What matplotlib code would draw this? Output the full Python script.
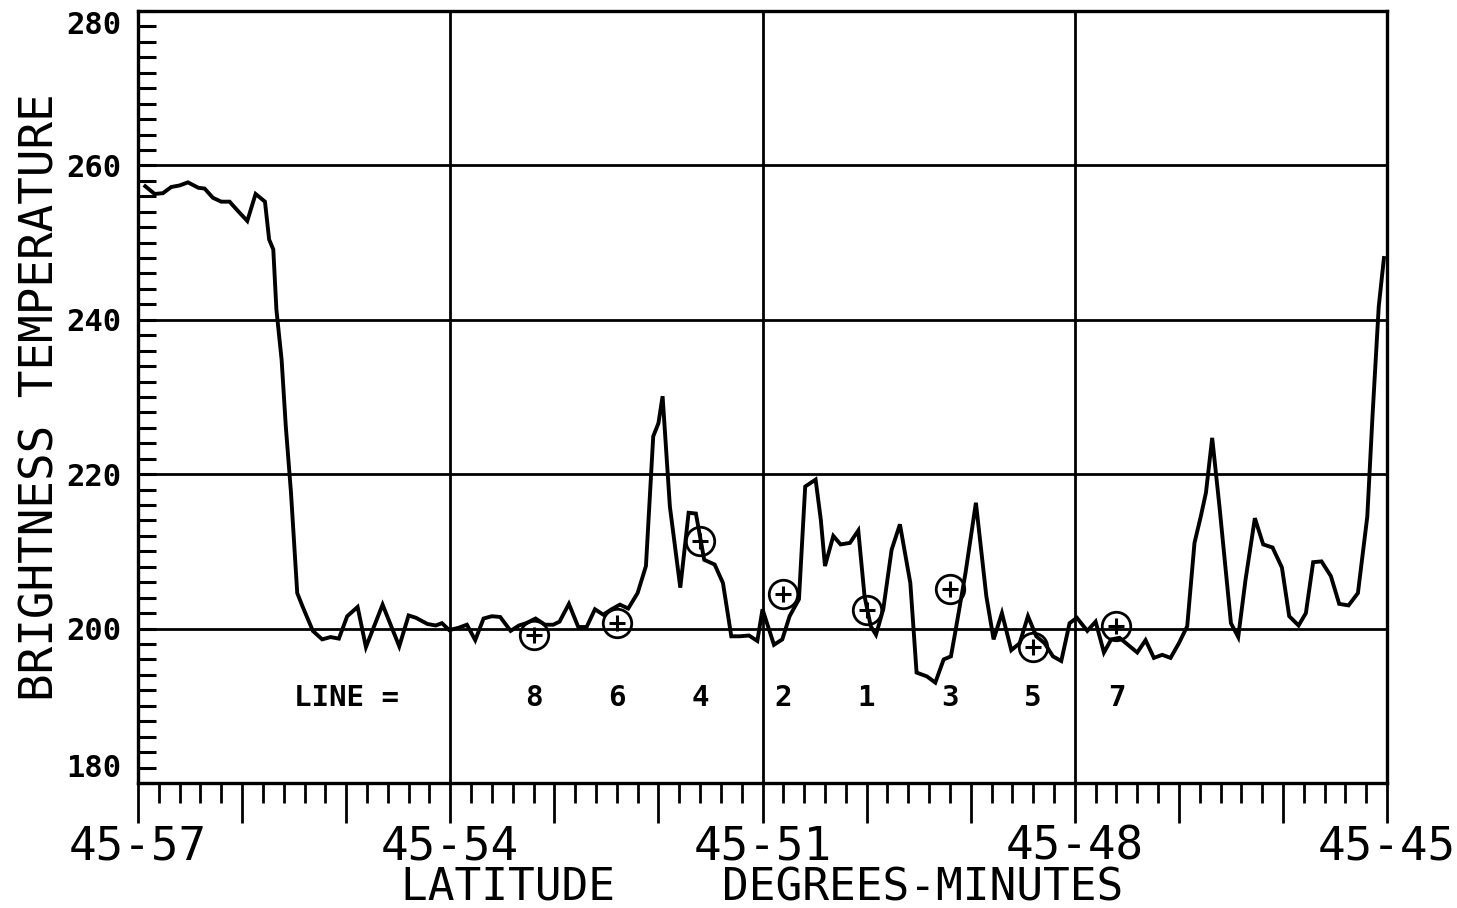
import matplotlib
matplotlib.use("Agg")
import matplotlib.pyplot as plt
import numpy as np

# ---- data ----
# x: minutes of latitude south of 45-57 (0 = 45-57, 12 = 45-45)
scan_x = [0.07, 0.16, 0.24, 0.32, 0.40, 0.48, 0.58, 0.64, 0.72, 0.80, 0.88, 0.96,
          1.05, 1.13, 1.22, 1.26, 1.30, 1.33, 1.38, 1.42, 1.47, 1.50, 1.53, 1.58,
          1.68, 1.77, 1.85, 1.93, 2.01, 2.11, 2.19, 2.35, 2.51, 2.60, 2.67, 2.78,
          2.86, 2.92, 2.99, 3.08, 3.16, 3.24, 3.32, 3.40, 3.48, 3.58, 3.66, 3.73,
          3.82, 3.91, 3.99, 4.05, 4.14, 4.23, 4.31, 4.39, 4.47, 4.55, 4.63, 4.71,
          4.80, 4.88, 4.95, 5.00, 5.04, 5.11, 5.21, 5.29, 5.36, 5.44, 5.54, 5.62,
          5.70, 5.78, 5.87, 5.95, 6.00, 6.11, 6.19, 6.26, 6.35, 6.41, 6.51, 6.56,
          6.60, 6.68, 6.75, 6.84, 6.92, 6.98, 7.04, 7.09, 7.16, 7.24, 7.32, 7.42,
          7.48, 7.58, 7.66, 7.74, 7.81, 7.85, 7.95, 8.05, 8.15, 8.22, 8.30, 8.39,
          8.47, 8.55, 8.63, 8.71, 8.79, 8.87, 8.95, 9.02, 9.12, 9.20, 9.28, 9.35,
          9.43, 9.51, 9.60, 9.68, 9.76, 9.84, 9.92, 10.00, 10.08, 10.15, 10.21,
          10.26, 10.32, 10.39, 10.50, 10.57, 10.64, 10.73, 10.81, 10.90, 10.99,
          11.06, 11.15, 11.22, 11.29, 11.37, 11.46, 11.54, 11.63, 11.72, 11.81,
          11.86, 11.92, 11.97]
brightness_temp = [257.3, 256.3, 256.4, 257.2, 257.4, 257.8, 257.1, 257.0, 255.8,
                   255.3, 255.3, 254.1, 252.8, 256.3, 255.3, 250.4, 249.1, 241.3,
                   234.8, 226.2, 217.6, 211.1, 204.6, 202.9, 199.7, 198.6, 198.9,
                   198.7, 201.6, 202.8, 197.6, 203.1, 197.7, 201.7, 201.4, 200.6,
                   200.4, 200.7, 199.8, 200.1, 200.5, 198.5, 201.3, 201.6, 201.5,
                   199.7, 200.4, 200.7, 201.3, 200.5, 200.5, 200.9, 203.2, 200.2,
                   200.2, 202.5, 201.8, 202.5, 203.1, 202.6, 204.6, 208.1, 224.9,
                   226.6, 230.1, 215.8, 205.3, 215.0, 214.9, 208.9, 208.3, 205.9,
                   199.0, 199.0, 199.1, 198.4, 202.5, 197.9, 198.6, 201.6, 203.8,
                   218.4, 219.3, 214.1, 208.1, 212.0, 210.9, 211.1, 212.7, 204.2,
                   200.3, 199.2, 202.5, 210.2, 213.5, 205.9, 194.3, 193.8, 193.0,
                   196.0, 196.4, 199.4, 207.2, 216.3, 204.2, 198.6, 202.0, 197.2,
                   198.1, 201.6, 199.0, 198.1, 196.4, 195.8, 200.7, 201.4, 199.7,
                   200.9, 196.9, 198.6, 198.8, 197.9, 196.9, 198.5, 196.2, 196.6,
                   196.2, 198.1, 200.3, 211.1, 214.5, 217.6, 224.7, 215.8, 200.7,
                   198.9, 206.3, 214.3, 210.9, 210.5, 207.9, 201.6, 200.4, 202.0,
                   208.6, 208.7, 206.8, 203.2, 203.0, 204.6, 214.5, 227.5, 241.7,
                   248.0]

line_ids = ["8", "6", "4", "2", "1", "3", "5", "7"]
line_x = [3.8, 4.6, 5.4, 6.2, 7.0, 7.8, 8.6, 9.4]
line_marker_temp = [199.2, 200.7, 211.4, 204.5, 202.4, 205.1, 197.6, 200.3]

x_tick_pos = [0, 3, 6, 9, 12]
x_tick_labels = ["45-57", "45-54", "45-51", "45-48", "45-45"]
y_tick_pos = [180, 200, 220, 240, 260, 280]
y_tick_labels = ["180", "200", "220", "240", "260", "280"]

FONT = "DejaVu Sans Mono"
plt.rcParams["font.family"] = FONT

fig = plt.figure(figsize=(14.57, 9.08), dpi=100)
ax = fig.add_axes([0.0947, 0.1377, 0.8573, 0.8502])

# grid lines
for gx in x_tick_pos[1:-1]:
    ax.axvline(gx, color="black", lw=2.0, zorder=1)
for gy in y_tick_pos[1:-1]:
    ax.axhline(gy, color="black", lw=2.0, zorder=1)

ax.plot(scan_x, brightness_temp, color="black", lw=2.8, zorder=3,
        solid_joinstyle="miter")

# scan-line markers (circle with plus)
ax.plot(line_x, line_marker_temp, linestyle="none", marker="o", markersize=20.5,
        markerfacecolor="none", markeredgecolor="black", markeredgewidth=2.0, zorder=4)
ax.plot(line_x, line_marker_temp, linestyle="none", marker="+", markersize=12,
        markeredgecolor="black", markeredgewidth=2.2, zorder=4)

ax.text(2.0, 191.0, "LINE =", fontsize=21, fontweight="bold", ha="center", va="center")
for lx, lid in zip(line_x, line_ids):
    ax.text(lx, 191.0, lid, fontsize=21, fontweight="bold", ha="center", va="center")

ax.set_xlim(0, 12)
ax.set_ylim(180, 280)

# x ticks
ax.set_xticks(np.arange(0, 13, 1))
ax.set_xticklabels([x_tick_labels[x_tick_pos.index(v)] if v in x_tick_pos else ""
                    for v in range(13)])
ax.set_xticks([v for v in np.round(np.arange(0, 12.01, 0.2), 2)
               if abs(v - round(v)) > 1e-6], minor=True)
ax.tick_params(axis="x", which="major", direction="out", length=29, width=2.0,
               pad=1, labelsize=33)
ax.tick_params(axis="x", which="minor", direction="out", length=14.5, width=2.0)

# y ticks
ax.set_yticks(y_tick_pos)
ax.set_yticklabels(y_tick_labels, fontweight="bold")
ax.set_yticks([v for v in range(180, 281, 2) if v % 20 != 0], minor=True)
ax.tick_params(axis="y", which="both", direction="in", length=13, width=2.2,
               pad=12, labelsize=22)
ylabs = ax.get_yticklabels()
ylabs[0].set_va("bottom")
ylabs[-1].set_va("top")

for s in ax.spines.values():
    s.set_linewidth(2.4)
    s.set_color("black")

ax.set_xlabel("LATITUDE    DEGREES-MINUTES", fontsize=32, labelpad=-2)
ax.set_ylabel("BRIGHTNESS TEMPERATURE", fontsize=33, labelpad=2)

fig.savefig("out.png", dpi=100, facecolor="white")
